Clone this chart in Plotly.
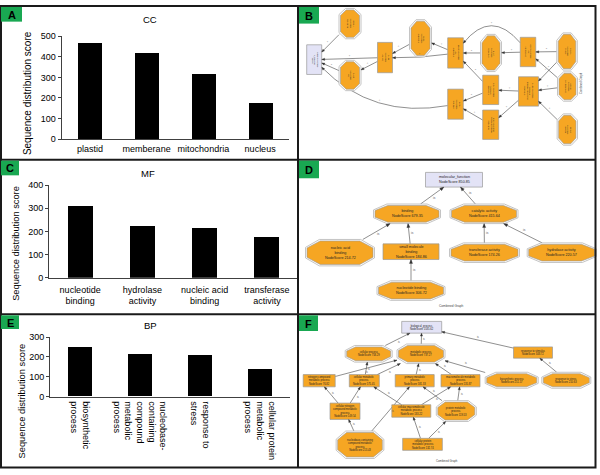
import math
import plotly.graph_objects as go

FONT = "Liberation Sans, Arial, sans-serif"

# ---------------- bar chart data ----------------
cc_categories = ["plastid", "memberane", "mitochondria", "nucleus"]
cc_values = [467, 418, 316, 175]

mf_categories = ["nucleotide<br>binding", "hydrolase<br>activity",
                 "nucleic acid<br>binding", "transferase<br>activity"]
mf_values = [308, 221, 215, 175]

bp_categories = ["biosynthetic<br>process",
                 "nucleobase-<br>containing<br>compound<br>metabolic<br>process",
                 "response to<br>stress",
                 "cellular protein<br>metabolic<br>process"]
bp_values = [251, 213, 211, 137]

# ---------------- GO graph data ----------------
# B : cellular component graph (drawn rotated, root on the left)
b_labels = ["cellular_<br>component<br>NodeScore 535.8", "membrane<br>NodeScore<br>418.58",
            "cell<br>NodeScore<br>50.42", "cell part<br>NodeScore<br>88.41",
            "intracellular<br>NodeScore<br>33.92", "intracellular<br>part<br>NodeScore 30.89",
            "cytoplasm<br>NodeScore<br>27.11", "cytoplasmic<br>part<br>NodeScore 26.9",
            "plastid<br>NodeScore<br>467.19", "intracellular<br>organelle<br>NodeScore 42.5",
            "intracellular<br>membrane-bounded<br>organelle<br>NodeScore 38.41",
            "mitochondrion<br>NodeScore<br>316.29", "organelle<br>NodeScore<br>46.29",
            "membrane-<br>bounded organelle<br>NodeScore 36.8", "nucleus<br>NodeScore<br>175.66"]
b_kinds = ["root", "oct", "oct", "rect", "oct", "rect", "oct", "rect", "oct",
           "rect", "rect", "oct", "rect", "rect", "oct"]
b_x = [314.2, 350, 350, 385, 420.5, 455.5, 491, 528, 567, 490.7, 528.5, 567.5, 455.5, 490.7, 567.3]
b_y = [55.8, 19, 72, 53.7, 34, 49, 49, 48, 47.5, 86.7, 88.3, 83.3, 101.3, 122.3, 127.2]
b_w = [15, 19, 19, 15, 19, 15.6, 18, 15.5, 17.5, 16, 20, 17, 15.6, 16, 17.3]
b_h = [30.3, 28, 28, 31, 35, 31, 35, 30, 35, 30, 30, 27, 30.7, 30, 29]
b_edges = [(1, 0), (2, 0), (3, 0), (3, 2), (4, 3), (5, 4), (5, 3), (6, 5), (7, 6), (7, 5),
           (8, 7), (11, 7), (8, 10), (11, 10), (14, 10), (9, 5), (10, 9), (10, 13),
           (9, 12), (13, 12), (12, 0)]
b_bends = {(5, 3): -3, (7, 5): 45, (12, 0): -40}

# D : molecular function graph
d_labels = ["molecular_function<br>NodeScore 850.85", "binding<br>NodeScore 679.35",
            "catalytic activity<br>NodeScore 415.64", "nucleic acid<br>binding<br>NodeScore 214.72",
            "small molecule<br>binding<br>NodeScore 184.86", "transferase activity<br>NodeScore 174.26",
            "hydrolase activity<br>NodeScore 220.57", "nucleotide binding<br>NodeScore 306.72"]
d_kinds = ["root", "oct", "oct", "oct", "rect", "oct", "oct", "oct"]
d_x = [454, 407, 484, 340, 411, 484.5, 561.7, 411]
d_y = [178.5, 213.3, 213.3, 253, 252, 253, 253, 291.7]
d_w = [57, 64, 65, 66, 56, 67, 66, 65]
d_h = [15, 17, 17, 24, 16, 17, 17, 17]
d_edges = [(1, 0), (2, 0), (3, 1), (4, 1), (7, 4), (5, 2), (6, 2)]
d_bends = {}

# F : biological process graph
f_labels = ["biological_process<br>NodeScore 1535.62", "cellular process<br>NodeScore 758.29",
            "metabolic process<br>NodeScore 737.27", "response to stimulus<br>NodeScore 348.72",
            "nitrogen compound<br>metabolic process<br>NodeScore 76.82",
            "cellular metabolic<br>process<br>NodeScore 575.45",
            "primary metabolic<br>process<br>NodeScore 581.33",
            "macromolecule metabolic<br>process<br>NodeScore 135.87",
            "biosynthetic process<br>NodeScore 251.57", "response to stress<br>NodeScore 210.63",
            "cellular nitrogen<br>compound metabolic<br>process<br>NodeScore 149.54",
            "cellular macromolecule<br>metabolic process<br>NodeScore 133.22",
            "protein metabolic<br>process<br>NodeScore 119.53",
            "nucleobase-containing<br>compound metabolic<br>process<br>NodeScore 213.43",
            "cellular protein<br>metabolic process<br>NodeScore 132.74"]
f_kinds = ["root", "oct", "oct", "rect", "rect", "rect", "rect", "rect", "oct", "oct",
           "rect", "rect", "oct", "oct", "rect"]
f_x = [421.7, 368.7, 421, 533, 319.2, 364.3, 414.7, 460.5, 511.7, 566.3, 345, 411.3, 456.3, 360, 422.5]
f_y = [329.2, 356.3, 356.3, 355, 383.8, 383.8, 383.8, 383.8, 383.3, 383.3, 415, 414.7, 414.8, 449.2, 448.8]
f_w = [40, 44, 45, 39, 32, 30, 39, 39, 50, 46, 30, 39, 37, 44.7, 39.7]
f_h = [12, 14, 17, 11.5, 12.5, 12.5, 12.5, 12.5, 13.3, 13.3, 16.7, 12.7, 18.3, 25, 12.3]
f_edges = [(1, 0), (2, 0), (3, 0), (4, 2), (5, 1), (5, 2), (6, 2), (7, 2), (8, 2), (9, 3),
           (10, 4), (10, 5), (13, 10), (13, 6), (11, 5), (11, 7), (12, 6), (12, 7),
           (14, 11), (14, 12)]
f_bends = {}

# ---------------- figure ----------------
W, H = 600, 475
fig = go.Figure()

bar_kw = dict(marker=dict(color="black", line=dict(width=0)), showlegend=False, hoverinfo="skip")
fig.add_trace(go.Bar(x=cc_categories, y=cc_values, width=0.42, xaxis="x", yaxis="y", **bar_kw))
fig.add_trace(go.Bar(x=mf_categories, y=mf_values, width=0.40, xaxis="x2", yaxis="y2", **bar_kw))
fig.add_trace(go.Bar(x=bp_categories, y=bp_values, width=0.40, xaxis="x3", yaxis="y3", **bar_kw))
fig.add_trace(go.Scatter(x=[0], y=[0], mode="markers", marker=dict(opacity=0),
                         xaxis="x4", yaxis="y4", showlegend=False, hoverinfo="skip"))


def px_x(v):
    return v / W


def px_y(v):
    return 1 - v / H


def xax(d0, d1, anchor, **kw):
    base = dict(domain=[px_x(d0), px_x(d1)], anchor=anchor, range=[-0.5, 3.5],
                showline=True, linecolor="#404040", linewidth=1, ticks="",
                showgrid=False, zeroline=False, fixedrange=True,
                tickfont=dict(family=FONT, size=9, color="black"))
    base.update(kw)
    return base


def yax(top, bottom, anchor, rmax):
    return dict(domain=[px_y(bottom), px_y(top)], anchor=anchor, range=[0, rmax], dtick=100,
                showline=True, linecolor="#404040", linewidth=1, ticks="outside", ticklen=3,
                tickcolor="#404040", showgrid=False, zeroline=False, fixedrange=True,
                tickfont=dict(family=FONT, size=9, color="black"))


annotations = []
shapes_edges, shapes_nodes, shapes_arrows, shapes_frame = [], [], [], []


def text_ann(x, y, text, size, angle=0, bold=False, color="#111", ref=("x4", "y4")):
    annotations.append(dict(x=x, y=y, xref=ref[0], yref=ref[1], text=("<b>%s</b>" % text) if bold else text,
                            showarrow=False, textangle=angle, xanchor="center", yanchor="middle",
                            font=dict(family=FONT, size=size, color=color)))


def octagon_path(cx, cy, w, h, fx, fy):
    a, b = w / 2, h / 2
    c, d = w * fx, h * fy
    pts = [(cx - a + c, cy - b), (cx + a - c, cy - b), (cx + a, cy - b + d), (cx + a, cy + b - d),
           (cx + a - c, cy + b), (cx - a + c, cy + b), (cx - a, cy + b - d), (cx - a, cy - b + d)]
    return "M " + " L ".join("%.2f,%.2f" % p for p in pts) + " Z"


ORANGE = "#f6a623"
LAVENDER = "#e3e3f6"


def add_graph(labels, kinds, xs, ys, ws, hs, edges, bends, fsize, angle, fx, fy, ahead, lab_size):
    def clip(i, tx, ty):
        cx, cy = xs[i], ys[i]
        dx, dy = tx - cx, ty - cy
        L = math.hypot(dx, dy)
        ux, uy = dx / L, dy / L
        pad = 1.5 if kinds[i] == "oct" else 0
        a, b = ws[i] / 2 + pad, hs[i] / 2 + pad
        t = min(a / abs(ux) if abs(ux) > 1e-9 else 1e9, b / abs(uy) if abs(uy) > 1e-9 else 1e9)
        return cx + ux * t, cy + uy * t

    for (c, p) in edges:
        x0, y0, x1, y1 = xs[c], ys[c], xs[p], ys[p]
        bend = bends.get((c, p), 0)
        dx, dy = x1 - x0, y1 - y0
        L = math.hypot(dx, dy)
        nx, ny = -dy / L, dx / L
        if bend:
            qx, qy = (x0 + x1) / 2 + nx * bend, (y0 + y1) / 2 + ny * bend
            sx, sy = clip(c, qx, qy)
            ex, ey = clip(p, qx, qy)
            path = "M %.2f,%.2f Q %.2f,%.2f %.2f,%.2f" % (sx, sy, qx, qy, ex, ey)
            tdx, tdy = ex - qx, ey - qy
            mx = 0.25 * sx + 0.5 * qx + 0.25 * ex
            my = 0.25 * sy + 0.5 * qy + 0.25 * ey
        else:
            sx, sy = clip(c, x1, y1)
            ex, ey = clip(p, x0, y0)
            path = "M %.2f,%.2f L %.2f,%.2f" % (sx, sy, ex, ey)
            tdx, tdy = ex - sx, ey - sy
            mx, my = (sx + ex) / 2, (sy + ey) / 2
        shapes_edges.append(dict(type="path", path=path, xref="x4", yref="y4",
                                 line=dict(color="#444444", width=0.6)))
        tl = math.hypot(tdx, tdy)
        ux, uy = tdx / tl, tdy / tl
        bx, by = ex - ux * ahead, ey - uy * ahead
        hw = ahead * 0.4
        tri = "M %.2f,%.2f L %.2f,%.2f L %.2f,%.2f Z" % (ex, ey, bx - uy * hw, by + ux * hw, bx + uy * hw, by - ux * hw)
        shapes_arrows.append(dict(type="path", path=tri, xref="x4", yref="y4",
                                  fillcolor="#333333", line=dict(color="#333333", width=0.3)))
        ex_u, ey_u = (x1 - x0) / L, (y1 - y0) / L
        text_ann(mx - ey_u * 3.5, my + ex_u * 3.5, "is", lab_size, angle=angle, color="#555")

    for i, k in enumerate(kinds):
        cx, cy, w, h = xs[i], ys[i], ws[i], hs[i]
        if k == "oct":
            shapes_nodes.append(dict(type="path", path=octagon_path(cx, cy, w + 3, h + 3, fx, fy),
                                     xref="x4", yref="y4", fillcolor="white",
                                     line=dict(color="#b5b5b5", width=0.8)))
            shapes_nodes.append(dict(type="path", path=octagon_path(cx, cy, w, h, fx, fy),
                                     xref="x4", yref="y4", fillcolor=ORANGE,
                                     line=dict(color="#999999", width=0.6)))
        else:
            shapes_nodes.append(dict(type="rect", x0=cx - w / 2, x1=cx + w / 2, y0=cy - h / 2, y1=cy + h / 2,
                                     xref="x4", yref="y4",
                                     fillcolor=LAVENDER if k == "root" else ORANGE,
                                     line=dict(color="#999999", width=0.7)))
        text_ann(cx, cy, labels[i], fsize, angle=angle, color="#222")


add_graph(b_labels, b_kinds, b_x, b_y, b_w, b_h, b_edges, b_bends, 2.0, -90, 0.3, 0.2, 3.0, 2.4)
add_graph(d_labels, d_kinds, d_x, d_y, d_w, d_h, d_edges, d_bends, 3.7, 0, 0.2, 0.3, 4.0, 3.2)
add_graph(f_labels, f_kinds, f_x, f_y, f_w, f_h, f_edges, f_bends, 2.6, 0, 0.2, 0.3, 3.0, 2.6)

text_ann(581.7, 80, "Combined Graph", 2.8, angle=-90, color="#444")
text_ann(451, 307.3, "Combined Graph", 3.2, color="#444")
text_ann(446.7, 465.3, "Combined Graph", 2.8, color="#444")

# bar chart titles / axis titles
for (x, y, t) in [(150, 15, "CC"), (148, 172, "MF"), (150, 327, "BP")]:
    text_ann(x, y, t, 9.5, color="black")
for (x, y, s) in [(27, 90, 10), (16, 244, 9.3), (22, 405, 9.3)]:
    text_ann(x, y, "Sequence distribution score", s, angle=-90, color="black")

# panel frame
BLK = "#1a1a1a"
shapes_frame.append(dict(type="rect", x0=1, x1=595.5, y0=1, y1=472.5, xref="x4", yref="y4",
                         line=dict(color=BLK, width=2)))
shapes_frame.append(dict(type="line", x0=298, x1=298, y0=1, y1=472.5, xref="x4", yref="y4",
                         line=dict(color=BLK, width=2)))
for yy in (158, 316):
    shapes_frame.append(dict(type="line", x0=1, x1=595.5, y0=yy, y1=yy, xref="x4", yref="y4",
                             line=dict(color=BLK, width=2)))

GREEN = "#19a852"
for (x0, y0, x1, y1, letter) in [(1, 2, 22, 17, "A"), (299, 2, 319, 19, "B"), (1, 159, 19, 174, "C"),
                                 (299, 159, 319, 177, "D"), (1, 317, 19, 331, "E"), (299, 317, 318, 333, "F")]:
    shapes_frame.append(dict(type="rect", x0=x0, x1=x1, y0=y0, y1=y1, xref="x4", yref="y4",
                             fillcolor=GREEN, line=dict(width=0)))
    text_ann((x0 + x1) / 2, (y0 + y1) / 2 + 0.5, letter, 11, bold=True, color="black")

fig.update_layout(
    width=W, height=H, autosize=False,
    margin=dict(l=0, r=0, t=0, b=0, pad=0),
    paper_bgcolor="white", plot_bgcolor="rgba(0,0,0,0)",
    showlegend=False, bargap=0,
    font=dict(family=FONT, color="black"),
    xaxis=xax(61.5, 288.5, "y", ticklabelstandoff=1),
    yaxis=yax(32, 137, "x", 500),
    xaxis2=xax(49, 298, "y2", ticklabelstandoff=3),
    yaxis2=yax(184, 278.7, "x2", 400),
    xaxis3=xax(50, 290, "y3", tickangle=90, ticklabelstandoff=2),
    yaxis3=yax(339.3, 400, "x3", 300),
    xaxis4=dict(domain=[0, 1], anchor="y4", range=[0, W], visible=False, fixedrange=True),
    yaxis4=dict(domain=[0, 1], anchor="x4", range=[H, 0], visible=False, fixedrange=True),
    shapes=shapes_edges + shapes_nodes + shapes_arrows + shapes_frame,
    annotations=annotations,
)

fig.write_html("out.html", config={"displayModeBar": False},
               post_script="document.body.style.margin='0px';document.body.style.overflow='hidden';")
